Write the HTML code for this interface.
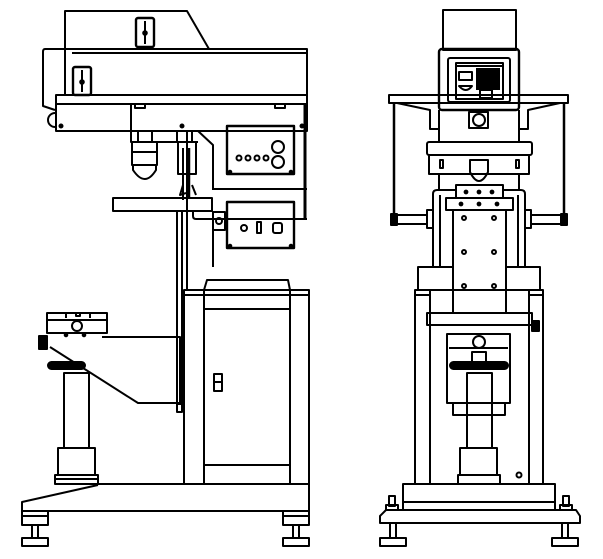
<!DOCTYPE html>
<html><head><meta charset="utf-8"><style>
html,body{margin:0;padding:0;background:#fff;}
svg{display:block;}
</style></head><body>
<svg width="603" height="559" viewBox="0 0 603 559" xmlns="http://www.w3.org/2000/svg">
<g fill="none" stroke="#000" stroke-width="2" stroke-linejoin="round">
<!-- ============ LEFT VIEW ============ -->
<path d="M65,95 L65,11 L187,11 L209,49"/>
<rect x="136" y="18" width="18" height="29" rx="2" stroke-width="2.4"/>
<line x1="145" y1="21" x2="145" y2="44"/><circle cx="145" cy="33" r="1.8" fill="#000"/>
<path d="M307,95 L307,49 L45,49 Q43,49 43,52 L43,106 L55,110"/>
<line x1="72" y1="53" x2="307" y2="53"/>
<rect x="73" y="67" width="18" height="28" rx="2" stroke-width="2.4"/>
<line x1="82" y1="70" x2="82" y2="92"/><circle cx="82" cy="82" r="1.8" fill="#000"/>
<path d="M55,113 A7,7 0 0 0 55,127"/>
<rect x="56" y="95" width="251" height="9"/>
<rect x="56" y="104" width="251" height="27"/>
<circle cx="61" cy="126" r="1.5" fill="#000"/><circle cx="182" cy="126" r="1.5" fill="#000"/><circle cx="302" cy="126" r="1.5" fill="#000"/>
<rect x="135" y="104" width="10" height="4"/><rect x="275" y="104" width="10" height="4"/>
<line x1="305" y1="104" x2="305" y2="218" stroke-width="3"/>
<path d="M131,104 L131,142 L198,142"/>
<path d="M138,131 L138,142 L152,142 L152,131"/>
<rect x="132" y="142" width="25" height="23"/>
<line x1="132" y1="152" x2="157" y2="152"/>
<path d="M133,165 L133,170 Q145,188 156,170 L156,165"/>
<path d="M177,131 L177,142 L192,142 L192,131"/>
<rect x="178" y="142" width="18" height="32"/>
<line x1="183" y1="148" x2="183" y2="200"/><line x1="189" y1="148" x2="189" y2="198" stroke-width="2.5"/>
<path d="M183,185 L180,195 L186,193"/><path d="M192,185 L196,195"/>
<path d="M198,131 L213,145 L213,190"/>
<rect x="227" y="126" width="67" height="48" stroke-width="2.4"/>
<circle cx="278" cy="147" r="6"/><circle cx="278" cy="162" r="6"/>
<circle cx="239" cy="158" r="2.5"/><circle cx="248" cy="158" r="2.5"/><circle cx="257" cy="158" r="2.5"/><circle cx="266" cy="158" r="2.5"/>
<circle cx="230" cy="172" r="1.3" fill="#000"/><circle cx="291" cy="172" r="1.3" fill="#000"/>
<line x1="213" y1="189" x2="307" y2="189"/>
<rect x="227" y="202" width="67" height="46" stroke-width="2.4"/>
<circle cx="244" cy="228" r="3"/><rect x="257" y="222" width="4" height="11"/><rect x="273" y="223" width="9" height="10" rx="2"/>
<circle cx="230" cy="246" r="1.3" fill="#000"/><circle cx="291" cy="246" r="1.3" fill="#000"/>
<path d="M193,211 L193,216 Q193,219 196,219 L307,219"/>
<rect x="213" y="212" width="12" height="18"/><circle cx="219" cy="221" r="3"/>
<line x1="213" y1="230" x2="213" y2="267"/>
<rect x="113" y="198" width="99" height="13"/>
<line x1="177" y1="211" x2="177" y2="412"/><line x1="182" y1="211" x2="182" y2="404"/>
<rect x="177" y="404" width="5" height="8"/>
<line x1="187" y1="131" x2="187" y2="290"/>
<rect x="184" y="290" width="125" height="194"/>
<line x1="184" y1="295" x2="309" y2="295"/>
<line x1="204" y1="290" x2="204" y2="484"/><line x1="290" y1="290" x2="290" y2="484"/>
<line x1="204" y1="309" x2="290" y2="309"/><line x1="204" y1="465" x2="290" y2="465"/>
<path d="M204,290 L207,280 L288,280 L290,290"/>
<rect x="214" y="374" width="8" height="17"/><line x1="214" y1="382" x2="222" y2="382"/>
<path d="M102,337 L180,337 L180,403 L138,403 L50,347"/>
<rect x="47" y="313" width="60" height="20"/>
<line x1="47" y1="320" x2="107" y2="320"/>
<path d="M66,313 L66,318 M90,313 L90,318 M76,313 L76,316 L80,316 L80,313"/>
<circle cx="77" cy="326" r="5"/>
<circle cx="66" cy="335" r="1.3" fill="#000"/><circle cx="84" cy="335" r="1.3" fill="#000"/>
<rect x="39" y="336" width="8" height="13" fill="#000"/>
<rect x="48" y="362" width="37" height="7" rx="3.5" fill="#000"/>
<rect x="64" y="373" width="25" height="75"/>
<rect x="58" y="448" width="37" height="27"/>
<rect x="55" y="475" width="43" height="9"/><line x1="55" y1="479" x2="98" y2="479"/>
<path d="M98,484 L309,484 L309,511 L22,511 L22,502 L98,485"/>
<rect x="22" y="511" width="26" height="14"/><line x1="22" y1="516" x2="48" y2="516"/>
<rect x="32" y="525" width="6" height="13"/><rect x="22" y="538" width="26" height="8"/>
<rect x="283" y="511" width="26" height="14"/><line x1="283" y1="516" x2="309" y2="516"/>
<rect x="293" y="525" width="6" height="13"/><rect x="283" y="538" width="26" height="8"/>

<!-- ============ RIGHT VIEW ============ -->
<rect x="443" y="10" width="73" height="40"/>
<rect x="439" y="49" width="80" height="61" rx="3" stroke-width="2.4"/>
<rect x="448" y="58" width="62" height="44" rx="2"/>
<rect x="456" y="63" width="47" height="36"/>
<rect x="459" y="72" width="13" height="8"/><path d="M459,86 Q466,94 472,86 Z"/>
<rect x="476" y="68" width="24" height="22" fill="#000" stroke="none"/>
<rect x="480" y="90" width="12" height="8"/>
<line x1="457" y1="66" x2="502" y2="66"/>
<rect x="389" y="95" width="179" height="8"/>
<path d="M397,103 L430,110 L430,129 L439,129"/><path d="M560,103 L528,110 L528,129 L519,129"/>
<line x1="394" y1="103" x2="394" y2="218" stroke-width="2.5"/><line x1="564" y1="103" x2="564" y2="218" stroke-width="2.5"/>
<rect x="391" y="214" width="6" height="11" fill="#000"/><rect x="561" y="214" width="6" height="11" fill="#000"/>
<rect x="397" y="215" width="30" height="9"/><rect x="531" y="215" width="30" height="9"/>
<line x1="439" y1="110" x2="439" y2="142"/><line x1="519" y1="110" x2="519" y2="142"/>
<rect x="469" y="112" width="19" height="16"/><circle cx="479" cy="120" r="6"/>
<rect x="427" y="142" width="105" height="13" rx="2"/>
<rect x="429" y="155" width="100" height="19"/>
<rect x="440" y="160" width="3" height="8"/><rect x="516" y="160" width="3" height="8"/>
<path d="M470,160 L470,172 Q479,190 488,172 L488,160 Z"/>
<line x1="439" y1="174" x2="439" y2="190"/><line x1="519" y1="174" x2="519" y2="190"/>
<path d="M433,267 L433,194 Q433,190 437,190 L456,190"/><path d="M525,267 L525,194 Q525,190 521,190 L503,190"/>
<line x1="440" y1="195" x2="440" y2="267"/><line x1="518" y1="195" x2="518" y2="267"/>
<rect x="427" y="210" width="6" height="18"/><rect x="525" y="210" width="6" height="18"/>
<rect x="456" y="185" width="47" height="13"/>
<circle cx="466" cy="192" r="1.4" fill="#000"/><circle cx="479" cy="192" r="1.4" fill="#000"/><circle cx="492" cy="192" r="1.4" fill="#000"/>
<rect x="446" y="198" width="67" height="12"/>
<circle cx="461" cy="204" r="1.4" fill="#000"/><circle cx="479" cy="204" r="1.4" fill="#000"/><circle cx="497" cy="204" r="1.4" fill="#000"/>
<rect x="453" y="210" width="53" height="103"/>
<circle cx="464" cy="218" r="2"/><circle cx="494" cy="218" r="2"/>
<circle cx="464" cy="252" r="2"/><circle cx="494" cy="252" r="2"/>
<circle cx="464" cy="286" r="2"/><circle cx="494" cy="286" r="2"/>
<path d="M418,290 L418,267 L453,267"/><path d="M540,290 L540,267 L506,267"/>
<rect x="415" y="290" width="128" height="194"/>
<line x1="430" y1="290" x2="430" y2="484"/><line x1="529" y1="290" x2="529" y2="484"/>
<line x1="415" y1="295" x2="430" y2="295"/><line x1="529" y1="295" x2="543" y2="295"/>
<rect x="427" y="313" width="105" height="12"/>
<rect x="532" y="321" width="7" height="10" fill="#000"/>
<rect x="447" y="334" width="63" height="69"/>
<line x1="449" y1="348" x2="508" y2="348"/>
<circle cx="479" cy="342" r="6"/>
<rect x="472" y="352" width="14" height="10"/>
<rect x="450" y="362" width="58" height="7" rx="3.5" fill="#000"/>
<rect x="453" y="403" width="52" height="12"/>
<rect x="467" y="373" width="25" height="75"/>
<rect x="460" y="448" width="37" height="27"/>
<rect x="458" y="475" width="42" height="9"/>
<circle cx="519" cy="475" r="2.5"/>
<rect x="403" y="484" width="152" height="26"/><line x1="403" y1="502" x2="555" y2="502"/>
<path d="M386,510 L576,510 L580,516 L580,523 L380,523 L380,516 Z"/>
<rect x="389" y="496" width="6" height="10"/><rect x="386" y="505" width="12" height="5"/>
<rect x="563" y="496" width="6" height="10"/><rect x="560" y="505" width="12" height="5"/>
<rect x="390" y="523" width="6" height="15"/><rect x="380" y="538" width="26" height="8"/>
<rect x="562" y="523" width="6" height="15"/><rect x="552" y="538" width="26" height="8"/>
</g>
</svg>
</body></html>
